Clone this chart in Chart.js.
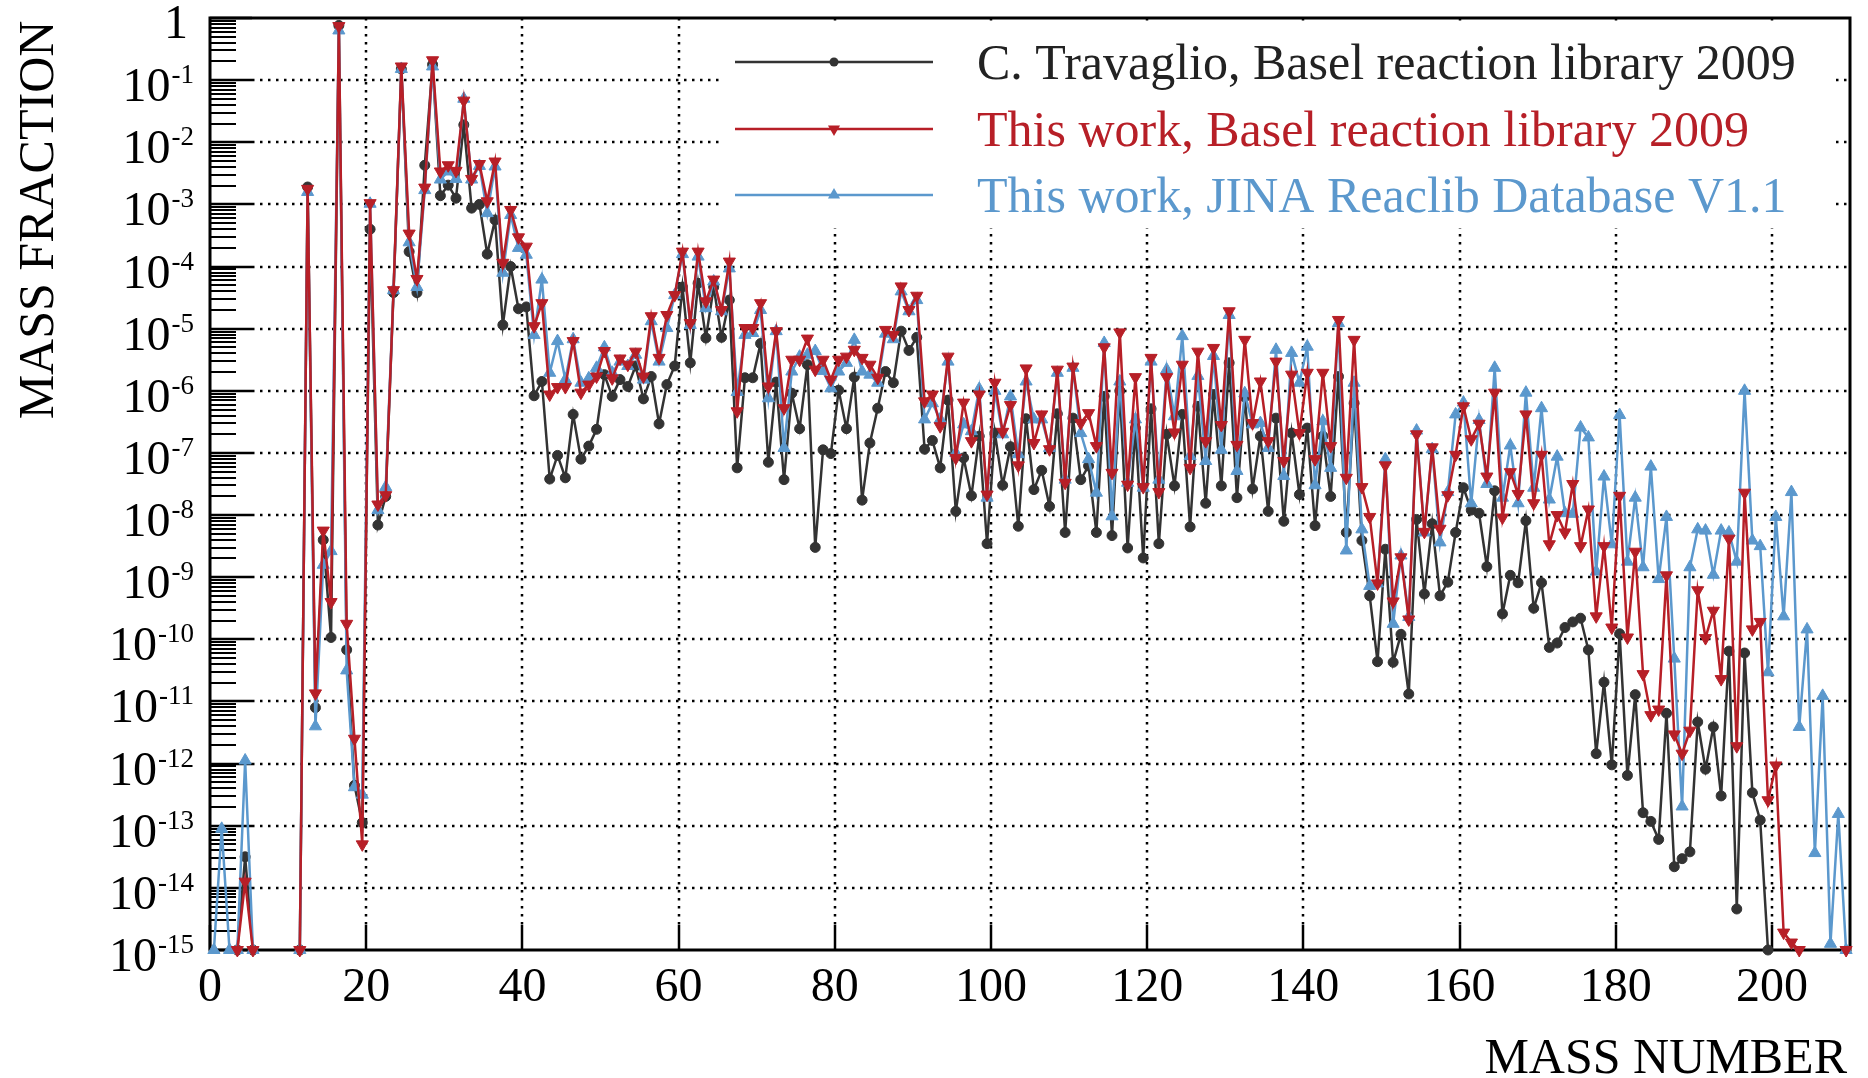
<!DOCTYPE html>
<html>
<head>
<meta charset="utf-8">
<title>Mass fraction vs mass number</title>
<script src="https://cdn.jsdelivr.net/npm/chart.js@4.4.1/dist/chart.umd.min.js"></script>
<style>
html, body { margin: 0; padding: 0; background: #fff; }
#wrap { width: 1868px; height: 1078px; position: relative; }
</style>
</head>
<body>
<div id="wrap"><canvas id="abundChart"></canvas></div>
<script>
// mass numbers 0..209, one bin per mass number
var massNumbers = Array.from({ length: 210 }, function (_, i) { return i; });

// log10(mass fraction) per mass number, null = no entry
var travaglioLog = [
    null, null, null, -15, -13.5, -15, null, null, null, null,
    null, -15, -2.72, -11.1, -8.4, -9.97, -0.12, -10.17, -12.35, -12.95,
    -3.4, -8.16, -7.7, -4.42, -0.82, -3.76, -4.42, -2.37, -0.75, -2.86,
    -2.69, -2.9, -1.72, -3.06, -3.0, -3.8, -3.25, -4.94, -4.0, -4.68,
    -4.65, -6.08, -5.85, -7.42, -7.04, -7.4, -6.38, -7.1, -6.89, -6.62,
    -5.74, -6.09, -5.82, -5.93, -5.6, -6.13, -5.77, -6.53, -5.9, -5.6,
    -4.33, -5.55, -4.27, -5.15, -4.33, -5.14, -4.54, -7.24, -5.79, -5.79,
    -5.24, -7.15, -5.86, -7.43, -6.04, -6.61, -5.58, -8.52, -6.95, -7.01,
    -5.99, -6.61, -5.78, -7.76, -6.84, -6.28, -5.69, -5.87, -5.04, -5.35,
    -5.14, -6.94, -6.8, -7.24, -6.15, -7.94, -7.08, -7.69, -6.73, -8.46,
    -6.68, -7.52, -6.9, -8.18, -6.45, -7.59, -7.28, -7.86, -6.37, -8.28,
    -6.44, -7.43, -7.21, -8.28, -6.09, -8.33, -6.0, -8.53, -6.6, -8.69,
    -6.29, -8.46, -6.7, -7.53, -6.38, -8.19, -6.25, -7.81, -6.06, -7.53,
    -5.55, -7.72, -6.1, -7.58, -6.73, -7.94, -6.44, -8.1, -6.68, -7.67,
    -6.6, -8.17, -6.73, -7.7, -5.77, -8.28, -6.2, -8.41, -9.3, -10.36,
    -8.55, -10.37, -9.92, -10.88, -8.07, -9.27, -8.14, -9.3, -9.08, -8.28,
    -7.56, -7.92, -7.97, -8.83, -7.61, -9.59, -8.97, -9.09, -8.09, -9.5,
    -9.09, -10.13, -10.06, -9.81, -9.72, -9.66, -10.17, -11.84, -10.69, -12.02,
    -9.91, -12.19, -10.89, -12.79, -12.93, -13.22, -11.19, -13.66, -13.53, -13.42,
    -11.33, -12.09, -11.41, -12.52, -10.19, -14.34, -10.22, -12.47, -12.91, -15,
    null, null, null, null, null, null, null, null, null, null
];
var baselLog = [
    null, null, null, -15, -13.9, -15, null, null, null, null,
    null, -15, -2.75, -10.87, -8.25, -9.4, -0.13, -9.75, -11.6, -13.3,
    -2.98, -7.83, -7.68, -4.38, -0.78, -3.47, -4.2, -2.73, -0.68, -2.47,
    -2.37, -2.46, -1.33, -2.59, -2.35, -2.95, -2.31, -3.94, -3.09, -3.53,
    -3.68, -4.96, -4.59, -6.06, -5.94, -5.94, -5.2, -6.03, -5.9, -5.77,
    -5.36, -5.8, -5.48, -5.58, -5.37, -5.77, -4.8, -5.47, -4.78, -4.46,
    -3.76, -4.91, -3.76, -4.56, -4.21, -4.7, -3.92, -6.33, -4.99, -4.99,
    -4.59, -5.93, -5.04, -6.28, -5.5, -5.5, -5.16, -5.66, -5.5, -5.82,
    -5.5, -5.45, -5.34, -5.47, -5.58, -5.79, -5.02, -5.1, -4.32, -4.7,
    -4.47, -6.17, -6.06, -6.57, -5.45, -7.08, -6.19, -6.81, -6.06, -7.67,
    -5.87, -6.66, -6.23, -7.2, -5.64, -6.84, -6.38, -6.94, -5.66, -7.48,
    -5.61, -6.52, -6.36, -6.89, -5.3, -7.32, -5.06, -7.51, -5.78, -7.55,
    -5.47, -7.63, -5.78, -6.67, -5.58, -7.24, -5.37, -6.81, -5.31, -6.55,
    -4.72, -6.87, -5.18, -6.52, -5.85, -6.81, -5.53, -7.13, -5.74, -6.68,
    -5.71, -7.1, -5.71, -6.89, -4.86, -7.4, -5.18, -7.55, -8.03, -9.1,
    -7.2, -9.39, -8.68, -9.68, -6.7, -8.27, -6.91, -8.22, -7.68, -7.03,
    -6.25, -6.78, -6.53, -7.38, -6.03, -8.04, -7.31, -7.66, -6.38, -7.81,
    -7.03, -8.47, -8.0, -8.28, -7.5, -8.5, -7.91, -9.63, -8.5, -9.81,
    -7.69, -9.97, -8.59, -10.56, -11.22, -11.13, -8.97, -11.53, -11.84, -11.47,
    -9.21, -9.98, -9.54, -10.64, -8.38, -11.72, -7.64, -9.84, -9.72, -12.59,
    -12.03, -14.72, -14.88, -15, null, null, null, null, null, -15
];
var jinaLog = [
    -15, -13.05, -15, -15, -11.95, -15, null, null, null, null,
    null, -15, -2.8, -11.4, -8.8, -8.58, -0.2, -10.5, -12.38, -12.5,
    -2.99, -7.92, -7.55, -4.38, -0.82, -3.61, -4.33, -2.77, -0.78, -2.6,
    -2.47, -2.59, -1.3, -2.6, -2.38, -3.14, -2.39, -4.1, -3.17, -3.7,
    -3.81, -5.1, -4.21, -5.71, -5.2, -5.82, -5.17, -5.87, -5.8, -5.63,
    -5.3, -5.71, -5.53, -5.6, -5.42, -5.82, -4.88, -5.53, -4.99, -4.46,
    -3.8, -4.94, -3.84, -4.67, -4.24, -4.72, -4.03, -6.02, -5.1, -5.07,
    -4.7, -6.12, -5.04, -6.92, -5.69, -5.45, -5.42, -5.36, -5.68, -5.96,
    -5.69, -5.55, -5.18, -5.69, -5.74, -5.87, -5.08, -5.17, -4.4, -4.72,
    -4.54, -6.46, -6.2, -6.46, -5.53, -7.0, -6.54, -6.65, -5.97, -7.72,
    -6.0, -6.7, -6.09, -7.02, -5.85, -6.46, -6.46, -6.92, -5.71, -7.43,
    -5.63, -6.68, -7.1, -7.64, -5.23, -8.02, -5.85, -7.48, -6.46, -7.56,
    -5.53, -7.43, -5.66, -6.41, -5.12, -7.05, -5.76, -7.13, -5.44, -6.95,
    -4.78, -7.29, -6.04, -6.54, -6.52, -6.92, -5.34, -7.37, -5.39, -5.87,
    -5.29, -7.52, -6.49, -7.24, -4.91, -8.57, -5.87, -8.23, -9.14, -9.1,
    -7.1, -9.75, -8.65, -9.64, -6.64, -8.28, -6.94, -8.44, -7.63, -6.38,
    -6.19, -7.81, -6.47, -7.5, -5.63, -7.72, -6.88, -7.81, -6.03, -7.56,
    -6.28, -7.75, -7.06, -7.97, -7.98, -6.59, -6.75, -8.91, -7.38, -8.47,
    -6.39, -8.75, -7.72, -8.84, -7.22, -9.03, -8.03, -10.31, -12.69, -8.84,
    -8.23, -8.25, -8.96, -8.25, -8.28, -8.75, -6.0, -8.41, -8.5, -10.53,
    -8.03, -9.63, -7.63, -11.41, -9.84, -13.44, -10.91, -14.9, -12.81, -15
];

var seriesNames = [
    "C. Travaglio, Basel reaction library 2009",
    "This work, Basel reaction library 2009",
    "This work, JINA Reaclib Database V1.1"
];
var xTickValues = [0, 20, 40, 60, 80, 100, 120, 140, 160, 180, 200];
var yExponents = [0, -1, -2, -3, -4, -5, -6, -7, -8, -9, -10, -11, -12, -13, -14, -15];
var xTitle = "MASS NUMBER";
var yTitle = "MASS FRACTION";

var cBlack = '#333333';
var cRed = '#b71f27';
var cBlue = '#5b98cd';
var serif = '"Liberation Serif", "Times New Roman", serif';

// each point sits at the centre of its mass bin
function toPoints(logValues) {
    return massNumbers.map(function (a, i) {
        var v = logValues[i];
        return { x: a + 0.5, y: v === null ? null : Math.pow(10, v) };
    });
}

function markerPath(ctx, style, x, y, r) {
    ctx.beginPath();
    if (style === 'circle') {
        ctx.arc(x, y, r, 0, Math.PI * 2);
    } else {
        var s = style === 'down' ? -1 : 1;
        ctx.moveTo(x, y - s * r);
        ctx.lineTo(x + r * 0.866, y + s * r * 0.5);
        ctx.lineTo(x - r * 0.866, y + s * r * 0.5);
        ctx.closePath();
    }
    ctx.fill();
}

var axesPlugin = {
    id: 'rootAxes',
    beforeDatasetsDraw: function (chart) {
        var ctx = chart.ctx, a = chart.chartArea;
        var xs = chart.scales.x, ys = chart.scales.y;
        ctx.save();
        ctx.strokeStyle = '#000';

        // dotted grid
        ctx.lineWidth = 2.5;
        ctx.setLineDash([2.5, 5.5]);
        yExponents.forEach(function (k) {
            if (k === 0 || k === -15) return;
            var py = Math.round(ys.getPixelForValue(Math.pow(10, k)));
            ctx.beginPath();
            ctx.moveTo(a.left + 42, py);
            ctx.lineTo(a.right, py);
            ctx.stroke();
        });
        xTickValues.forEach(function (v) {
            if (v === 0) return;
            var px = Math.round(xs.getPixelForValue(v));
            ctx.beginPath();
            ctx.moveTo(px, a.top);
            ctx.lineTo(px, a.bottom - 25);
            ctx.stroke();
        });
        ctx.setLineDash([]);

        // legend box hides the grid behind it
        ctx.fillStyle = '#fff';
        ctx.fillRect(722, 24, 1113, 204);

        // y ticks: decades and minor 2..9
        yExponents.forEach(function (k) {
            var py = Math.round(ys.getPixelForValue(Math.pow(10, k)));
            ctx.lineWidth = 2.5;
            ctx.beginPath();
            ctx.moveTo(a.left, py);
            ctx.lineTo(a.left + 42, py);
            ctx.stroke();
            if (k === 0) return;
            ctx.lineWidth = 2;
            for (var m = 2; m <= 9; m++) {
                var my = Math.round(ys.getPixelForValue(m * Math.pow(10, k)));
                ctx.beginPath();
                ctx.moveTo(a.left, my);
                ctx.lineTo(a.left + 26, my);
                ctx.stroke();
            }
        });
        // x ticks
        ctx.lineWidth = 2.5;
        xTickValues.forEach(function (v) {
            var px = Math.round(xs.getPixelForValue(v));
            ctx.beginPath();
            ctx.moveTo(px, a.bottom);
            ctx.lineTo(px, a.bottom - 25);
            ctx.stroke();
        });

        // frame
        ctx.lineWidth = 3;
        ctx.strokeRect(a.left, a.top, a.right - a.left, a.bottom - a.top);
        ctx.restore();
    },
    afterDraw: function (chart) {
        var ctx = chart.ctx, a = chart.chartArea;
        var xs = chart.scales.x, ys = chart.scales.y;
        ctx.save();
        ctx.fillStyle = '#000';

        // y tick labels 10^k
        ctx.textAlign = 'right';
        ctx.textBaseline = 'alphabetic';
        yExponents.forEach(function (k) {
            var py = ys.getPixelForValue(Math.pow(10, k));
            if (k === 0) {
                ctx.font = '48px ' + serif;
                ctx.fillText('1', 188, py + 20);
                return;
            }
            var exp = String(k);
            ctx.font = '27px ' + serif;
            ctx.fillText(exp, 194, py + 3);
            var w = ctx.measureText(exp).width;
            ctx.font = '48px ' + serif;
            ctx.fillText('10', 194 - w - 1, py + 21);
        });

        // x tick labels
        ctx.textAlign = 'center';
        ctx.font = '48px ' + serif;
        xTickValues.forEach(function (v) {
            ctx.fillText(String(v), xs.getPixelForValue(v), 1001);
        });

        // axis titles
        ctx.font = '50px ' + serif;
        ctx.textAlign = 'right';
        ctx.fillText(xTitle, 1847, 1073);
        ctx.save();
        ctx.translate(53, 220);
        ctx.rotate(-Math.PI / 2);
        ctx.textAlign = 'center';
        ctx.fillText(yTitle, 0, 0);
        ctx.restore();

        // legend
        var rows = [
            { y: 62, color: cBlack, style: 'circle', r: 4.5 },
            { y: 129, color: cRed, style: 'down', r: 7 },
            { y: 195, color: cBlue, style: 'up', r: 7 }
        ];
        ctx.textAlign = 'left';
        ctx.font = '50px ' + serif;
        rows.forEach(function (row, i) {
            ctx.strokeStyle = row.color;
            ctx.fillStyle = row.color;
            ctx.lineWidth = 2.5;
            ctx.beginPath();
            ctx.moveTo(735, row.y);
            ctx.lineTo(933, row.y);
            ctx.stroke();
            markerPath(ctx, row.style, 834, row.y, row.r);
            ctx.fillStyle = i === 0 ? '#222222' : row.color;
            ctx.fillText(seriesNames[i], 977, row.y + 17);
        });
        ctx.restore();
    }
};

function seriesOptions(label, logValues, color, style, radius, rotation) {
    return {
        label: label,
        data: toPoints(logValues),
        borderColor: color,
        backgroundColor: color,
        borderWidth: 2.5,
        pointStyle: style,
        pointRadius: radius,
        pointRotation: rotation,
        pointBackgroundColor: color,
        pointBorderColor: color,
        pointBorderWidth: 1,
        tension: 0,
        spanGaps: false,
        clip: false
    };
}

// first dataset is painted last, so the red series ends on top
var oChart = new Chart(document.getElementById('abundChart'), {
    type: 'line',
    data: {
        datasets: [
            seriesOptions(seriesNames[1], baselLog, cRed, 'triangle', 7, 180),
            seriesOptions(seriesNames[2], jinaLog, cBlue, 'triangle', 7, 0),
            seriesOptions(seriesNames[0], travaglioLog, cBlack, 'circle', 5, 0)
        ]
    },
    options: {
        responsive: true,
        maintainAspectRatio: false,
        animation: false,
        layout: { padding: { left: 210, top: 18, right: 18, bottom: 128 } },
        plugins: {
            legend: { display: false },
            tooltip: { enabled: false }
        },
        scales: {
            x: { type: 'linear', min: 0, max: 210, display: false },
            y: { type: 'logarithmic', min: 1e-15, max: 1, display: false }
        }
    },
    plugins: [axesPlugin]
});
</script>
</body>
</html>
